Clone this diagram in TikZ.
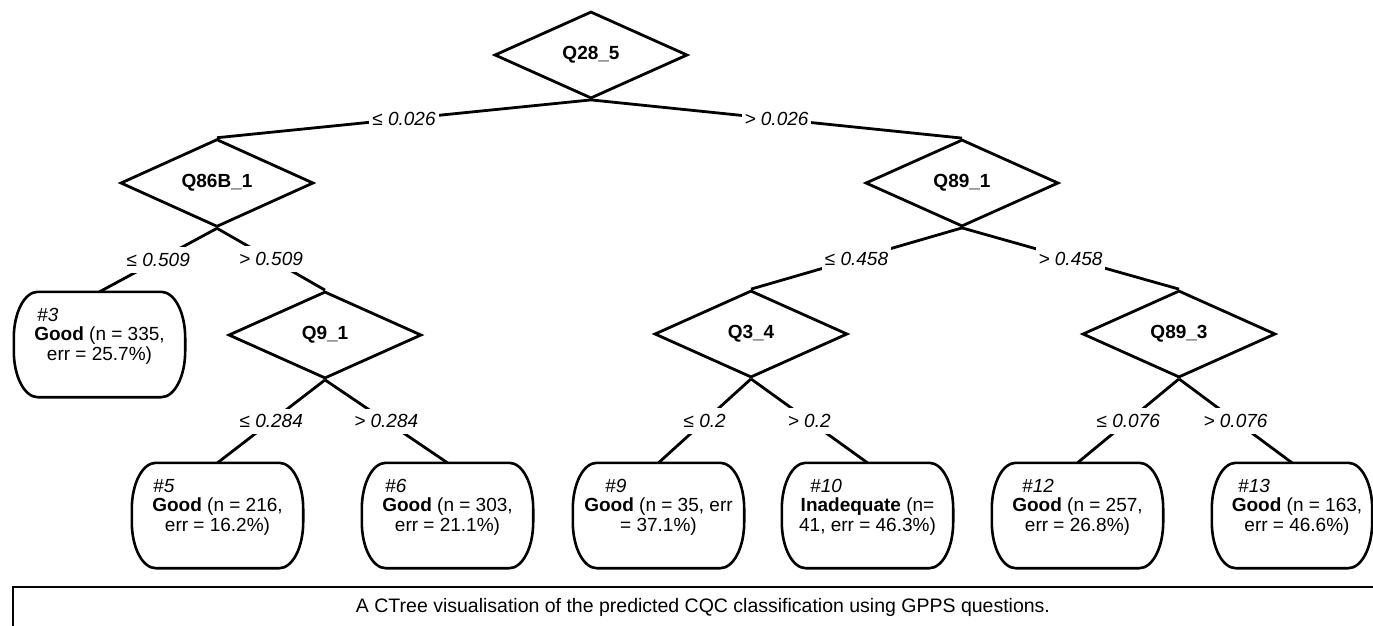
\documentclass[tikz,border=0pt]{standalone}
\usepackage{fontspec}
\setmainfont{Liberation Sans}
\usetikzlibrary{shapes.geometric,calc}
\tikzset{
  lw/.style={line width=2.8pt},
  decision/.style={shape=diamond, draw, lw, minimum width=193pt, minimum height=87pt,
    inner sep=0pt, font=\fontsize{19}{22}\selectfont\bfseries},
  edgeline/.style={lw},
  elab/.style={fill=white, inner xsep=3pt, inner ysep=6pt, font=\fontsize{19}{22}\selectfont\itshape},
  leaf/.style={minimum height=105pt, inner sep=0pt},
  leafline/.style={line width=2.6pt},
  ltext/.style={font=\fontsize{19}{22}\selectfont, anchor=base, inner sep=0pt},
  lnum/.style={font=\fontsize{19}{22}\selectfont\itshape, anchor=base west, inner sep=0pt},
  captext/.style={font=\fontsize{19.5}{22}\selectfont, inner sep=0pt, anchor=base},
}
% name, cx, top, width, numx, textcx, num, line1, line2
\newcommand{\leafbox}[9]{%
  \node[leaf, minimum width=#4pt] (#1) at (#2,{-#3-52.5}) {};
  \draw[leafline] ($(#1.north west)+(24pt,0)$) -- ($(#1.north east)+(-24pt,0)$)
    arc[start angle=90,end angle=0,x radius=24pt,y radius=46pt]
    -- ($(#1.south east)+(0,46pt)$)
    arc[start angle=0,end angle=-90,x radius=24pt,y radius=46pt]
    -- ($(#1.south west)+(24pt,0)$)
    arc[start angle=270,end angle=180,x radius=24pt,y radius=46pt]
    -- ($(#1.north west)+(0,-46pt)$)
    arc[start angle=180,end angle=90,x radius=24pt,y radius=46pt] -- cycle;
  \node[lnum] (#1n) at (#5,{-#3-29}) {#7};
  \node[ltext] (#1a) at (#6,{-#3-48}) {#8};
  \node[ltext] (#1b) at (#6,{-#3-68}) {#9};
}
\begin{document}
\begin{tikzpicture}[x=1pt,y=1pt]
\useasboundingbox (0,0) rectangle (1373,-625);
\fill[white] (0,0) rectangle (1373,-625);

% decision nodes
\node[decision] (q28) at (591,-55) {Q28\_5};
\node[decision] (q86) at (217,-183) {Q86B\_1};
\node[decision] (q89a) at (962,-183) {Q89\_1};
\node[decision] (q9) at (325,-335) {Q9\_1};
\node[decision] (q34) at (751,-334) {Q3\_4};
\node[decision] (q89c) at (1179,-334) {Q89\_3};

% leaves
\leafbox{l3}{99.5}{292}{171}{37}{99.5}{\#3}{\textbf{Good} (n = 335,}{err = 25.7\%)}
\leafbox{l5}{217.5}{463}{171}{153}{217.5}{\#5}{\textbf{Good} (n = 216,}{err = 16.2\%)}
\leafbox{l6}{447.5}{463}{171}{385}{447.5}{\#6}{\textbf{Good} (n = 303,}{err = 21.1\%)}
\leafbox{l9}{658.5}{463}{171}{605}{658.5}{\#9}{\textbf{Good} (n = 35, err}{= 37.1\%)}
\leafbox{l10}{867.5}{463}{171}{810}{867.5}{\#10}{\textbf{Inadequate} (n=}{41, err = 46.3\%)}
\leafbox{l12}{1077.5}{463}{171}{1022}{1077.5}{\#12}{\textbf{Good} (n = 257,}{err = 26.8\%)}
\leafbox{l13}{1292}{463}{160}{1238}{1297}{\#13}{\textbf{Good} (n = 163,}{err = 46.6\%)}

% edges
\draw[edgeline] (q28.south) -- node[elab] {≤ 0.026} (q86.north);
\draw[edgeline] (q28.south) -- node[elab] {> 0.026} (q89a.north);
\draw[edgeline] (q86.south) -- node[elab] {≤ 0.509} (l3.north);
\draw[edgeline] (q86.south) -- node[elab] {> 0.509} (q9.north);
\draw[edgeline] (q9.south) -- node[elab] {≤ 0.284} (l5.north);
\draw[edgeline] (q9.south) -- node[elab] {> 0.284} (l6.north);
\draw[edgeline] (q89a.south) -- node[elab] {≤ 0.458} (q34.north);
\draw[edgeline] (q89a.south) -- node[elab] {> 0.458} (q89c.north);
\draw[edgeline] (q34.south) -- node[elab] {≤ 0.2} (l9.north);
\draw[edgeline] (q34.south) -- node[elab] {> 0.2} (l10.north);
\draw[edgeline] (q89c.south) -- node[elab] {≤ 0.076} (l12.north);
\draw[edgeline] (q89c.south) -- node[elab] {> 0.076} (l13.north);

% caption
\draw[line width=2pt] (13,-587) rectangle (1400,-660);
\node[captext] (cap) at (703,-612) {A CTree visualisation of the predicted CQC classification using GPPS questions.};
\end{tikzpicture}
\end{document}
